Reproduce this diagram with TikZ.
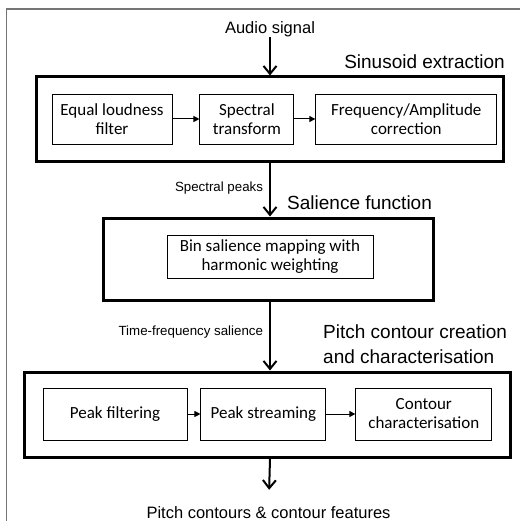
\documentclass[tikz,border=0pt]{standalone}
\usepackage{fontspec}
\setmainfont{Liberation Sans}
\newfontfamily\boxfont{Carlito}
\usetikzlibrary{positioning,arrows.meta}
\definecolor{framegray}{HTML}{757575}

\begin{document}
\begin{tikzpicture}[x=1pt, y=-1pt,
        stage/.style={rectangle, draw=black, line width=3pt, inner sep=0pt},
        block/.style={rectangle, draw=black, line width=0.9pt, font=\fontsize{17}{19}\boxfont, align=center, inner sep=0pt},
        title/.style={font=\fontsize{19}{25}\selectfont, align=left, inner sep=0pt},
        io/.style={font=\fontsize{16.5}{20}\selectfont, inner sep=0pt},
        lbl/.style={font=\fontsize{13.3}{16}\selectfont, inner sep=0pt},
        flow/.style={line width=2pt, -{Straight Barb[length=8pt,width=13pt]}},
        link/.style={line width=1pt, -{Triangle[length=6pt,width=6pt]}},
      ]
      \useasboundingbox (0,0) rectangle (520,521);
      \draw [draw=framegray, line width=1.5pt] (6.5,521) |- (520,9);
      % stages
      \node [stage, minimum width=467, minimum height=85] (sinbox) at (269.5,119.5) {};
      \node [stage, minimum width=330, minimum height=82] (salbox) at (268,259) {};
      \node [stage, minimum width=486, minimum height=85] (pitchbox) at (267,414.5) {};
      % sinusoid extraction
      \node [block, minimum width=120, minimum height=50] (eqloud) at (112,119) {Equal loudness\\filter};
      \node [block, minimum width=94, minimum height=50, right=27pt of eqloud] (spectr) {Spectral\\transform};
      \node [block, minimum width=181, minimum height=50, right=21pt of spectr] (fcorr) {Frequency/Amplitude\\correction};
      % salience function
      \node [block, minimum width=206, minimum height=43] (binmap) at (270,256.5) {Bin salience mapping with\\harmonic weighting};
      % contour creation
      \node [block, minimum width=144, minimum height=52] (pkfilt) at (115,414) {Peak filtering};
      \node [block, minimum width=125, minimum height=52, right=13pt of pkfilt] (pkstream) {Peak streaming};
      \node [block, minimum width=136, minimum height=52, right=29pt of pkstream] (ctchar) {Contour\\characterisation};
      % titles and signals
      \node [io] (audio) at (270,29) {Audio signal};
      \node [io] (output) at (268.5,513) {Pitch contours \& contour features};
      \node [title, anchor=east] (sintitle) at (505,62) {Sinusoid extraction};
      \node [title, anchor=west] (saltitle) at (287,203) {Salience function};
      \node [title, anchor=west] (pitchtitle) at (323,344.5) {Pitch contour creation\\and characterisation};
      \draw [link] (eqloud) -- (spectr);
      \draw [link] (spectr) -- (fcorr);
      \draw [link] (pkfilt) -- (pkstream);
      \draw [link] (pkstream) -- (ctchar);
      \draw [flow] (audio.south) -- (audio.south |- sinbox.north);
      \draw [flow] (sinbox.south -| audio) -- node [lbl, left=6pt, pos=0.47] {Spectral peaks} (audio |- salbox.north);
      \draw [flow] (salbox.south -| audio) -- node [lbl, left=6pt, pos=0.44] {Time-frequency salience} (audio |- pitchbox.north);
      \draw [flow, shorten >=17pt] (pitchbox.south -| audio) -- (output);
    \end{tikzpicture}
\end{document}
